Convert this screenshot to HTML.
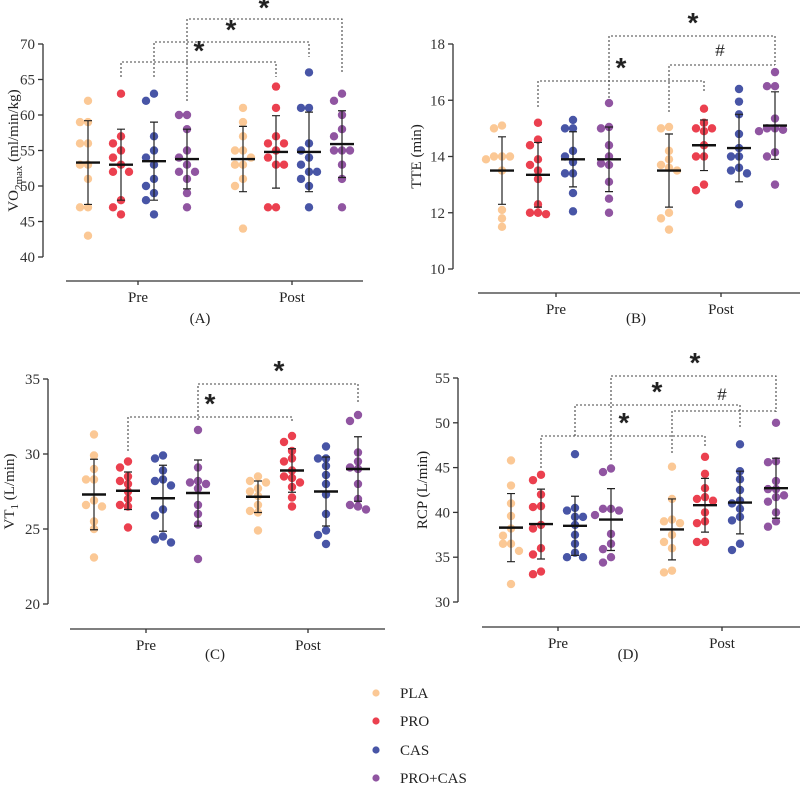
<!DOCTYPE html>
<html><head><meta charset="utf-8">
<style>
html,body{margin:0;padding:0;background:#fff;}
svg{display:block;font-family:"Liberation Serif",serif;}
</style></head>
<body>
<svg id="chart" width="800" height="786" viewBox="0 0 800 786" xmlns="http://www.w3.org/2000/svg"></svg>
<script>
const groupNames = ["PLA","PRO","CAS","PRO+CAS"];
const timeLabels = ["Pre","Post"];

const aValues = [
 [62,59,59,56,56,53,53,51,47,47,43],
 [63,57,56,55,54,53,52,52,48,47,46],
 [63,62,57,55,54,53,51,50,49,48,46],
 [60,60,58,55,54,53,52,52,51,49,47],
 [61,59,57,55,55,54,53,53,51,50,44],
 [64,61,57,56,56,55,54,53,53,47,47],
 [66,61,61,56,55,54,53,52,52,51,50,47],
 [63,62,60,58,57,55,55,55,53,51,47]];
const aMeans = [53.3,53.0,53.5,53.8,53.8,54.8,54.8,55.9];
const aSD = [5.9,5.0,5.5,4.2,4.6,5.1,5.6,4.7];
const aTicks = [40,45,50,55,60,65,70];

const bValues = [
 [15.1,15.0,14.0,14.0,14.0,13.9,13.5,12.1,11.8,11.5],
 [15.2,14.6,14.4,13.9,13.7,13.5,13.2,12.3,12.0,12.0,11.95],
 [15.3,15.0,15.0,14.2,14.0,13.8,13.4,13.4,12.7,12.05],
 [15.9,15.05,15.0,14.4,14.0,13.75,13.7,13.1,12.5,12.0],
 [15.05,15.0,14.2,13.9,13.7,13.6,13.5,12.0,11.8,11.4],
 [15.7,15.2,15.0,15.0,14.9,14.4,14.0,14.0,13.0,12.8],
 [16.4,15.95,15.5,14.8,14.3,14.0,14.0,13.6,13.5,13.4,12.3],
 [17.0,16.5,16.5,15.35,15.0,15.0,14.95,14.9,14.15,14.0,13.0]];
const bMeans = [13.5,13.35,13.9,13.9,13.5,14.4,14.3,15.1];
const bSD = [1.2,1.15,0.98,1.15,1.3,0.9,1.2,1.2];
const bTicks = [10,12,14,16,18];

const cValues = [
 [31.3,29.9,29.0,28.3,28.3,26.9,26.6,26.5,25.5,25.0,23.1],
 [29.5,29.1,28.5,28.2,28.0,27.5,27.0,26.6,26.5,25.1],
 [29.9,29.7,28.9,28.3,28.2,27.9,26.3,25.9,24.5,24.3,24.1],
 [31.6,29.1,28.2,28.1,28.0,27.7,26.6,26.0,25.3,23.0],
 [28.5,28.2,28.1,27.7,27.5,27.2,26.6,26.2,26.1,24.9],
 [31.2,30.8,30.2,29.7,29.5,28.9,28.5,28.4,28.1,27.8,27.1,26.5],
 [30.5,29.7,29.7,29.2,28.6,28.0,27.3,26.0,24.9,24.6,24.0],
 [32.6,32.2,30.1,29.5,29.1,29.0,28.0,27.0,26.6,26.5,26.3]];
const cMeans = [27.3,27.55,27.05,27.4,27.15,28.9,27.5,29.0];
const cSD = [2.35,1.25,2.2,2.2,1.05,1.45,2.3,2.15];
const cTicks = [20,25,30,35];

const dValues = [
 [45.8,43.0,41.0,39.6,38.2,37.4,36.5,36.5,35.7,32.0],
 [44.2,43.6,42.0,40.7,40.6,38.6,38.2,36.0,35.3,33.4,33.1],
 [46.5,40.5,40.2,39.5,39.5,38.6,37.5,36.5,35.5,35.0,35.0],
 [44.9,44.5,40.4,40.4,40.2,39.7,37.6,36.5,35.9,35.0,34.4],
 [45.1,41.5,39.2,39.0,38.8,37.5,36.7,36.0,33.5,33.3],
 [46.2,44.3,42.7,41.7,41.5,41.3,40.0,39.0,38.8,36.7,36.7],
 [47.6,44.6,43.7,42.5,41.3,41.0,40.4,39.5,39.1,36.5,35.8],
 [50.0,45.7,45.6,43.5,42.6,42.6,41.9,41.7,41.2,40.0,39.0,38.4]];
const dMeans = [38.3,38.7,38.5,39.2,38.1,40.8,41.1,42.7];
const dSD = [3.8,3.9,3.3,3.45,3.4,3.0,3.5,3.35];
const dTicks = [30,35,40,45,50,55];

const colors = ["rgba(250,190,130,0.85)","rgba(232,30,48,0.85)","rgba(40,55,150,0.85)","rgba(125,55,145,0.85)"];
const NS = "http://www.w3.org/2000/svg";
const svg = document.getElementById("chart");
function mk(tag, attrs, parent){
  const e = document.createElementNS(NS, tag);
  for (const k in attrs) e.setAttribute(k, attrs[k]);
  (parent||svg).appendChild(e);
  return e;
}

function panel(cfg){
  const g = mk("g", {});
  
  
  const y = v => cfg.y0 + (v - cfg.vmin) / (cfg.vmax - cfg.vmin) * (cfg.y1 - cfg.y0);
  const ax = mk("line",{x1:cfg.ax,x2:cfg.ax,y1:y(cfg.vmax),y2:y(cfg.vmin),stroke:"#333","stroke-width":1.3},g);
  
  
  cfg.ticks.forEach(t=>{
    mk("line",{x1:cfg.ax-5,x2:cfg.ax,y1:y(t),y2:y(t),stroke:"#333","stroke-width":1.3},g);
    const tx = mk("text",{x:cfg.ax-8,y:y(t)+5,"text-anchor":"end","font-size":15,fill:"#333"},g);
    tx.textContent = t;
    
    
  });
  const yl = mk("text",{x:0,y:0,"text-anchor":"middle","font-size":15,fill:"#222",transform:`translate(${cfg.ylx},${(y(cfg.vmax)+y(cfg.vmin))/2}) rotate(-90)`},g);
  yl.innerHTML = cfg.ylabel;
  
  
  const xa = mk("line",{x1:cfg.xa0,x2:cfg.xa1,y1:cfg.xay,y2:cfg.xay,stroke:"#333","stroke-width":1.3},g);
  
  
  cfg.xticks.forEach((xt,i)=>{
    mk("line",{x1:xt,x2:xt,y1:cfg.xay,y2:cfg.xay+4,stroke:"#333","stroke-width":1.3},g);
    const tx = mk("text",{x:xt,y:cfg.xay+21,"text-anchor":"middle","font-size":15,fill:"#222"},g);
    tx.textContent = timeLabels[i];
    
    
  });
  const pl = mk("text",{x:cfg.plx,y:cfg.ply,"text-anchor":"middle","font-size":15,fill:"#222"},g);
  pl.textContent = cfg.plabel;
  
  
  cfg.brackets.forEach(b=>{
    const p = mk("polyline",{points:`${b[0]},${b[3]} ${b[0]},${b[2]} ${b[1]},${b[2]} ${b[1]},${b[4]}`,fill:"none",stroke:"#444","stroke-width":1.1,"stroke-dasharray":"2,2"},g);
    
    
    const isHash = b[7]=="#";
    const s = mk("text",{x:b[5],y:isHash?b[6]:b[6]+2,"text-anchor":"middle","font-size":isHash?17:28,"font-weight":isHash?"normal":"bold","font-family":"Liberation Sans, sans-serif",fill:"#222"},g);
    s.textContent = b[7];
    
    
  });
  const d = 8;
  cfg.values.forEach((vals,gi)=>{
    const cx = cfg.cx[gi];
    const col = colors[gi%4];
    const placed = [];
    vals.forEach(v=>{
      const py = y(v);
      const cands=[0,-d,d,-2*d,2*d,-3*d,3*d];
      let off=0;
      for(const c of cands){
        if(!placed.some(p=>Math.hypot(p[0]-c,p[1]-py)<d-0.5)){off=c;break;}
      }
      placed.push([off,py]);
      const dot = mk("circle",{cx:cx+off,cy:py,r:4.2,fill:col},g);
      
      
    });
    const m = cfg.means[gi], s = cfg.sd[gi];
    const eb = mk("path",{d:`M${cx},${y(m+s)}V${y(m-s)}M${cx-4},${y(m+s)}H${cx+4}M${cx-4},${y(m-s)}H${cx+4}`,stroke:"#222","stroke-width":1.2,fill:"none"},g);
    
    
    const ml = mk("line",{x1:cx-12,x2:cx+12,y1:y(m),y2:y(m),stroke:"#111","stroke-width":2.4},g);
    
    
  });
}

panel({name:"panel-a-vo2max",values:aValues,means:aMeans,sd:aSD,ticks:aTicks,vmin:40,vmax:70,y0:257,y1:44,ax:43,
  cx:[88,121,154,187,243,276,309,342],xa0:66,xa1:363,xay:281,xticks:[138,292],plx:200,ply:323,plabel:"(A)",ylx:18,
  ylabel:'VO<tspan font-size="11" dy="4">2max</tspan><tspan dy="-4"> (ml/min/kg)</tspan>',
  brackets:[[121,276,62,77,77,199,58,"*"],[154,309,42,77,57,231,37,"*"],[187,342,19,101,73,264,15,"*"]]});
panel({name:"panel-b-tte",values:bValues,means:bMeans,sd:bSD,ticks:bTicks,vmin:10,vmax:18,y0:269,y1:44,ax:453,
  cx:[502,538,573,609,669,704,739,775],xa0:478,xa1:800,xay:293,xticks:[556,721],plx:636,ply:323,plabel:"(B)",ylx:421,
  ylabel:'TTE (min)',
  brackets:[[538,704,81,107,93,621,75,"*"],[609,775,36,98,65,693,30,"*"],[669,775,65,112,65,720,56,"#"]]});
panel({name:"panel-c-vt1",values:cValues,means:cMeans,sd:cSD,ticks:cTicks,vmin:20,vmax:35,y0:604,y1:379,ax:48,
  cx:[94,128,163,198,258,292,326,358],xa0:70,xa1:385,xay:629,xticks:[146,308],plx:215,ply:659,plabel:"(C)",ylx:14,
  ylabel:'VT<tspan font-size="11" dy="4">1</tspan><tspan dy="-4"> (L/min)</tspan>',
  brackets:[[128,292,417,451,423,210,411,"*"],[198,358,384,420,402,279,378,"*"]]});
panel({name:"panel-d-rcp",values:dValues,means:dMeans,sd:dSD,ticks:dTicks,vmin:30,vmax:55,y0:602,y1:378,ax:458,
  cx:[511,541,575,611,672,705,740,776],xa0:482,xa1:800,xay:627,xticks:[558,722],plx:628,ply:659,plabel:"(D)",ylx:427,
  ylabel:'RCP (L/min)',
  brackets:[[541,705,436,468,447,624,430,"*"],[575,740,405,436,428,657,399,"*"],[611,776,376,460,412,695,370,"*"],[672,776,411,453,411,722,400,"#"]]});

const legendY = [693,721,750,778];
groupNames.forEach((n,i)=>{
  const dot = mk("circle",{cx:376,cy:legendY[i],r:3.6,fill:colors[i]});
  
  
  const t = mk("text",{x:400,y:legendY[i]+5,"font-size":15,fill:"#222"});
  t.textContent = n;
  
  
});
</script>
</body></html>
